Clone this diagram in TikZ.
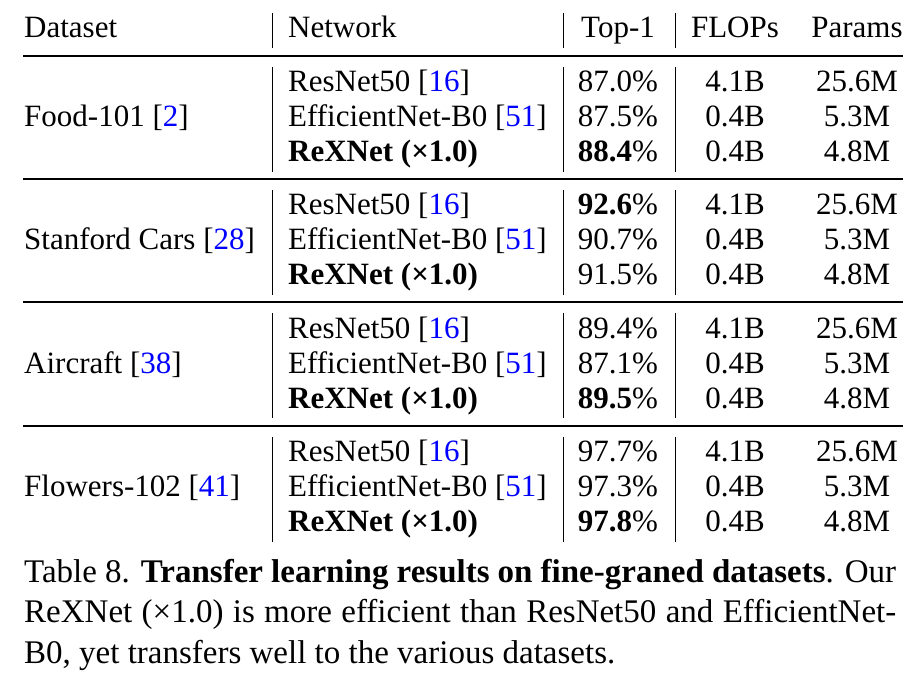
\documentclass[tikz,border=0pt]{standalone}
\usepackage{fontspec}
\setmainfont{Liberation Serif}
\usepackage{xcolor}
\definecolor{citeblue}{rgb}{0,0,1}
\newcommand{\cit}[1]{[\textcolor{citeblue}{#1}]}

\begin{document}
\begin{tikzpicture}[x=1pt, y=-1pt,
    lcell/.style={inner sep=0pt, anchor=base west},
    ccell/.style={inner sep=0pt, anchor=base},
    rulebar/.style={line width=2pt},
    colbar/.style={line width=0.9pt},
    font=\fontsize{31}{36}\selectfont]
    \def \dy {35} % row pitch
    \def \capw {872pt} % caption width
    \useasboundingbox (0,0) rectangle (922,692);

    % header row
    \node[lcell] (hdata) at (24,38) {Dataset};
    \node[lcell] (hnet) at (288,38) {Network};
    \node[ccell] (htop) at (618,38) {Top-1};
    \node[ccell] (hflops) at (735,38) {FLOPs};
    \node[ccell] (hparams) at (857,38) {Params};
    \foreach \x in {272,563,675}
      \draw[colbar] (\x,13) -- (\x,48);

    % one block per dataset, \r is the rule above it
    \foreach \g/\r/\ds/\ta/\tb/\tc in {
        1/56/{Food-101 \cit{2}}/{87.0\%}/{87.5\%}/{\textbf{88.4}\%},
        2/179/{Stanford Cars \cit{28}}/{\textbf{92.6}\%}/{90.7\%}/{91.5\%},
        3/302.5/{Aircraft \cit{38}}/{89.4\%}/{87.1\%}/{\textbf{89.5}\%},
        4/426/{Flowers-102 \cit{41}}/{97.7\%}/{97.3\%}/{\textbf{97.8}\%}}
    {
      \draw[rulebar] (23,\r) -- (903,\r);
      \foreach \x in {272,563,675}
        \draw[colbar] (\x,\r+11) -- (\x,\r+116);
      \node[lcell] (ds-\g) at (24,\r+36+\dy) {\ds};
      \node[lcell] (net-\g-1) at (288,\r+36) {ResNet50 \cit{16}};
      \node[lcell] (net-\g-2) at (288,\r+36+\dy) {EfficientNet-B0 \cit{51}};
      \node[lcell] (net-\g-3) at (288,\r+36+2*\dy) {\textbf{ReXNet (×1.0)}};
      \node[ccell] (top-\g-1) at (618,\r+36) {\ta};
      \node[ccell] (top-\g-2) at (618,\r+36+\dy) {\tb};
      \node[ccell] (top-\g-3) at (618,\r+36+2*\dy) {\tc};
      \node[ccell] (fl-\g-1) at (735,\r+36) {4.1B};
      \node[ccell] (fl-\g-2) at (735,\r+36+\dy) {0.4B};
      \node[ccell] (fl-\g-3) at (735,\r+36+2*\dy) {0.4B};
      \node[ccell] (par-\g-1) at (857,\r+36) {25.6M};
      \node[ccell] (par-\g-2) at (857,\r+36+\dy) {5.3M};
      \node[ccell] (par-\g-3) at (857,\r+36+2*\dy) {4.8M};
    }

    % caption
    \begin{scope}[font=\fontsize{33}{40}\selectfont]
      \node[lcell] (cap1) at (24,583) {\makebox[\capw][s]{Table 8. \textbf{Transfer learning results on fine-graned datasets}. Our}};
      \node[lcell] (cap2) at (24,623) {\makebox[\capw][s]{ReXNet (×1.0) is more efficient than ResNet50 and EfficientNet-}};
      \node[lcell] (cap3) at (24,663) {B0, yet transfers well to the various datasets.};
    \end{scope}
\end{tikzpicture}
\end{document}
